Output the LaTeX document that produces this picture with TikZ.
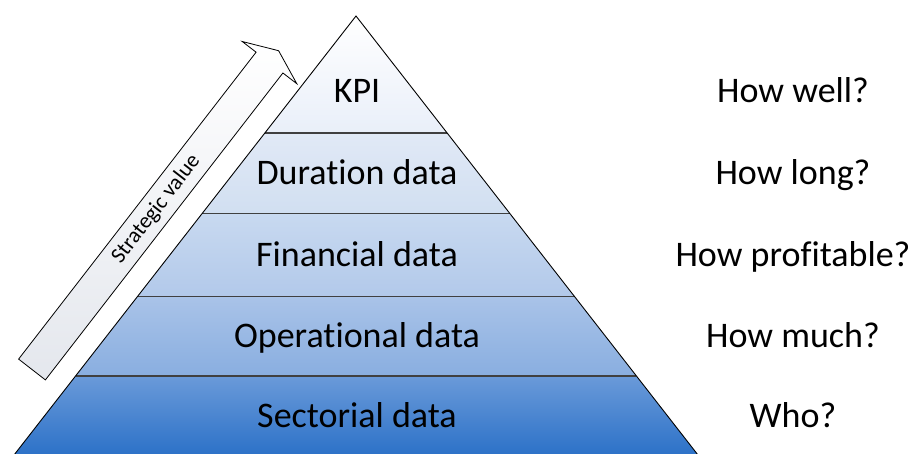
\documentclass[tikz,border=0pt]{standalone}
\usepackage{fontspec}
\setmainfont{Carlito}[Ligatures=NoCommon]
\definecolor{bA}{HTML}{FFFFFF}
\definecolor{bAb}{HTML}{E9EFF9}
\definecolor{bBt}{HTML}{E1E9F6}
\definecolor{bBb}{HTML}{D1DFF1}
\definecolor{bCt}{HTML}{C8D9F0}
\definecolor{bCb}{HTML}{B2C9EA}
\definecolor{bDt}{HTML}{A9C3E8}
\definecolor{bDb}{HTML}{89AEE0}
\definecolor{bEt}{HTML}{6A9AD9}
\definecolor{bEb}{HTML}{2D72C8}
\definecolor{arrowgray}{HTML}{E4E7ED}
\begin{document}
\begin{tikzpicture}[x=1pt,y=-1pt,
  lbl/.style={font=\fontsize{36}{40}\selectfont, anchor=base, inner sep=0pt},
  small/.style={font=\fontsize{22}{26}\selectfont, inner sep=0pt},
  divider/.style={draw=black!75, line width=1.1pt},
  outline/.style={draw=black, line width=0.9pt, line join=miter}]
\useasboundingbox (0,0) rectangle (915,454);
\fill[white] (0,0) rectangle (915,454);
% pyramid corners
\coordinate (A) at (356,16);
\coordinate (L1) at (264.9,133);   \coordinate (R1) at (447.1,133);
\coordinate (L2) at (202.1,213.5); \coordinate (R2) at (509.9,213.5);
\coordinate (L3) at (137.5,296.5); \coordinate (R3) at (574.5,296.5);
\coordinate (L4) at (75.6,376);    \coordinate (R4) at (636.4,376);
\coordinate (L5) at (14.8,454);    \coordinate (R5) at (697.2,454);
% bands
\shade[top color=bA, bottom color=bAb] (A) -- (R1) -- (L1) -- cycle;
\shade[top color=bBt, bottom color=bBb] (L1) -- (R1) -- (R2) -- (L2) -- cycle;
\shade[top color=bCt, bottom color=bCb] (L2) -- (R2) -- (R3) -- (L3) -- cycle;
\shade[top color=bDt, bottom color=bDb] (L3) -- (R3) -- (R4) -- (L4) -- cycle;
\shade[top color=bEt, bottom color=bEb] (L4) -- (R4) -- (R5) -- (L5) -- cycle;
\draw[divider] (L1) -- (R1);
\draw[divider] (L2) -- (R2);
\draw[divider] (L3) -- (R3);
\draw[divider] (L4) -- (R4);
\draw[outline] (L5) -- (A) -- (R5);
% arrow
\coordinate (TL) at (18.6,359.1);
\coordinate (TR) at (45.4,379.9);
\coordinate (IL) at (256.1,52.2);
\coordinate (IR) at (282.9,73.0);
\coordinate (BL) at (242.2,41.5);
\coordinate (BR) at (296.8,83.7);
\coordinate (TP) at (278.6,50.7);
\shade[top color=white, bottom color=arrowgray, draw=black, line width=0.8pt, line join=miter]
  (TL) -- (IL) -- (BL) -- (TP) -- (BR) -- (IR) -- (TR) -- cycle;
\node[small, rotate=52.27] (sv) at (156.2,209.1) {Strategic value};
% labels
\node[lbl] (kpi) at (357,103) {KPI};
\node[lbl] (dur) at (357,185) {Duration data};
\node[lbl] (fin) at (357,266) {Financial data};
\node[lbl] (ope) at (357,347) {Operational data};
\node[lbl] (sec) at (357,427) {Sectorial data};
\node[lbl] (q1) at (793,103) {How well?};
\node[lbl] (q2) at (793,185) {How long?};
\node[lbl] (q3) at (793,266) {How profitable?};
\node[lbl] (q4) at (793,347) {How much?};
\node[lbl] (q5) at (793,427) {Who?};
\end{tikzpicture}
\end{document}
